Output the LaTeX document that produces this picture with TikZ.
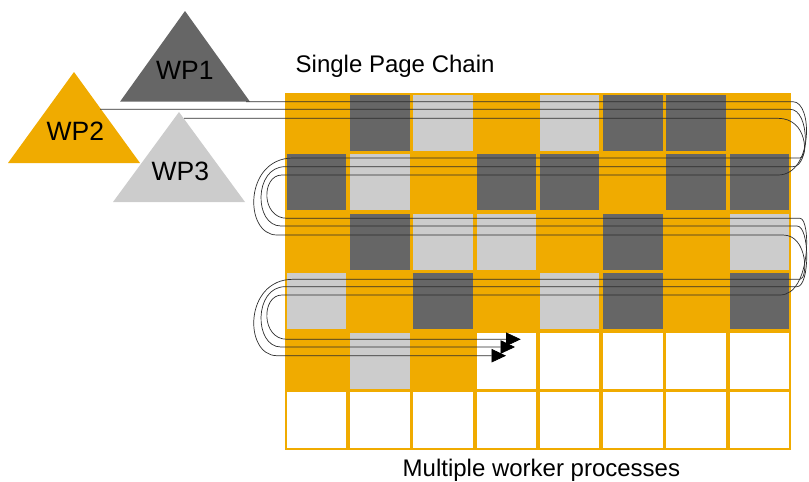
\documentclass[tikz,border=0pt]{standalone}
\usepackage{fontspec}
\setmainfont{Liberation Sans}
\usetikzlibrary{arrows.meta}
\definecolor{wporange}{RGB}{240,171,0}
\definecolor{wpdark}{RGB}{102,102,102}
\definecolor{wplight}{RGB}{204,204,204}
\definecolor{chainline}{RGB}{45,45,45}

\begin{document}
\begin{tikzpicture}[x=1pt, y=-1pt,
    chain/.style={draw=chainline, line width=0.7pt, -{Triangle[length=14.5pt, width=13.5pt, color=black]}},
    wplabel/.style={anchor=base west, inner sep=0pt, font=\fontsize{26.5}{30}\selectfont},
    caption/.style={anchor=base west, inner sep=0pt, font=\fontsize{24}{28}\selectfont}]
    \useasboundingbox (0, 0) rectangle (809, 482);

    % worker processes
    \fill[wpdark] (185, 11) -- (250, 101.7) -- (120, 101.7) -- cycle;
    \fill[wporange] (74, 72) -- (140, 163) -- (8, 163) -- cycle;
    \fill[wplight] (179, 112) -- (245, 202) -- (113, 202) -- cycle;
    \node[wplabel] (wp1 label) at (156, 79.3) {WP1};
    \node[wplabel] (wp2 label) at (46.5, 140) {WP2};
    \node[wplabel] (wp3 label) at (151.5, 180) {WP3};

    \node[caption] (chain title) at (295.5, 72.7) {Single Page Chain};
    \node[caption] (pool title) at (402.5, 476) {Multiple worker processes};

    % page grid, 8 x 6
    \fill[wporange] (285, 93) rectangle (791, 450);
    \foreach \cells [count=\r from 0] in {
        {wporange,wpdark,wplight,wporange,wplight,wpdark,wpdark,wporange},
        {wpdark,wplight,wporange,wpdark,wpdark,wporange,wpdark,wpdark},
        {wporange,wpdark,wplight,wplight,wporange,wpdark,wporange,wplight},
        {wplight,wporange,wpdark,wporange,wplight,wpdark,wporange,wpdark},
        {wporange,wplight,wporange,white,white,white,white,white},
        {white,white,white,white,white,white,white,white}}
        \foreach \fillc [count=\c from 0] in \cells
            \fill[\fillc] ({285 + 63.25*\c + 1.8}, {93 + 59.5*\r + 1.8}) rectangle ++(59.65, 55.9);

    % chains through the pages
    \coordinate (wp1 out) at (246, 101.7);
    \coordinate (wp2 out) at (100, 109.3);
    \coordinate (wp3 out) at (184, 118.3);
    \coordinate (wp1 end) at (520.7, 339.3);
    \coordinate (wp2 end) at (515, 347);
    \coordinate (wp3 end) at (506, 355.7);

    \draw[chain] (wp1 out) -- (793, 101.7) .. controls (813, 101.7) and (813, 175) .. (778, 175)
        -- (282, 175) .. controls (261, 175) and (261, 218.3) .. (287, 218.3)
        -- (800, 218.3) .. controls (811, 218.3) and (811, 295) .. (780, 295)
        -- (282, 295) .. controls (261, 295) and (261, 339.3) .. (287, 339.3) -- (wp1 end);
    \draw[chain] (wp2 out) -- (790, 109.3) .. controls (810, 109.3) and (810, 166.7) .. (793, 166.7)
        -- (285, 166.7) .. controls (253.7, 166.7) and (253.7, 226) .. (281, 226)
        -- (797, 226) .. controls (810, 226) and (810, 286.7) .. (797, 286.7)
        -- (285, 286.7) .. controls (253.7, 286.7) and (253.7, 347) .. (281, 347) -- (wp2 end);
    \draw[chain] (wp3 out) -- (778, 118.3) .. controls (808, 118.3) and (808, 158) .. (800, 158)
        -- (293, 158) .. controls (243.7, 158) and (243.7, 235) .. (277, 235)
        -- (783, 235) .. controls (808, 235) and (808, 279.3) .. (800, 279.3)
        -- (293, 279.3) .. controls (243.7, 279.3) and (243.7, 355.7) .. (277, 355.7) -- (wp3 end);
\end{tikzpicture}
\end{document}
